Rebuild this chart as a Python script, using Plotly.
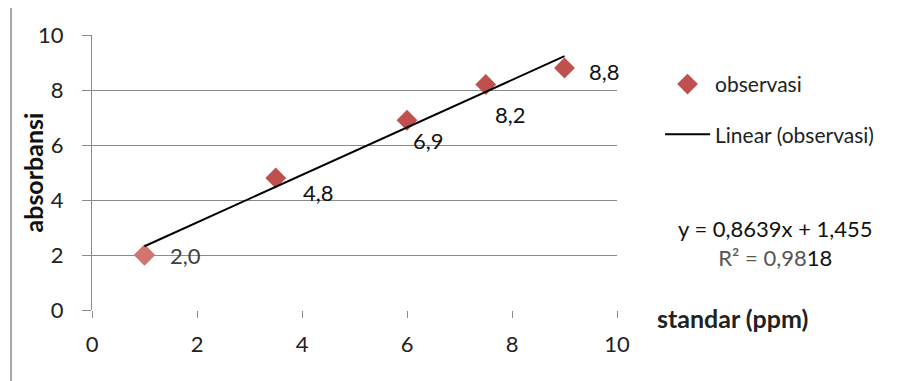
import plotly.graph_objects as go
import numpy as np

# data
standar = [1.0, 3.5, 6.0, 7.5, 9.0]
absorbansi = [2.0, 4.8, 6.9, 8.2, 8.8]
point_labels = ["2,0", "4,8", "6,9", "8,2", "8,8"]
slope = 0.8639
intercept = 1.455
r_squared = "0,9818"
x_ticks = [0, 2, 4, 6, 8, 10]
y_ticks = [0, 2, 4, 6, 8, 10]

# styles
FONT = "Lato"
label_colors = ["#404040"] + ["#111111"] * (len(standar) - 1)
label_shift = [(41, 0), (43, -14), (21, -20), (25, -30), (40, -3)]

fig = go.Figure()

fit_x = np.array([min(standar), max(standar)])
fit_y = slope * fit_x + intercept

fig.add_trace(go.Scatter(
    x=standar, y=absorbansi, mode="markers", name="observasi",
    marker=dict(symbol="diamond", size=16, color="#C0504D", line=dict(width=0)),
    legendgroup="a",
))
# first point appears lighter in the original
fig.add_trace(go.Scatter(
    x=standar[:1], y=absorbansi[:1], mode="markers", showlegend=False,
    marker=dict(symbol="diamond", size=16, color="#D27470", line=dict(width=0)),
    hoverinfo="skip", legendgroup="a",
))
fig.add_trace(go.Scatter(
    x=fit_x, y=fit_y, mode="lines", name="Linear (observasi)",
    line=dict(color="black", width=2), legendgroup="b",
))

annotations = []
for xv, yv, lab, col, (dx, dy) in zip(standar, absorbansi, point_labels, label_colors, label_shift):
    annotations.append(dict(x=xv, y=yv, xref="x", yref="y", text=lab, showarrow=False,
                            xanchor="center", yanchor="middle",
                            xshift=dx, yshift=dy, font=dict(family=FONT, size=22, color=col)))

eq_text = ("y = " + f"{slope:.4f}".replace(".", ",") + "x + " + f"{intercept:.3f}".replace(".", ",")
           + "<br><span style='color:#555'>R² = " + r_squared[:4] + "</span>" + r_squared[4:])

annotations += [
    dict(x=-0.1124, y=0.5, xref="paper", yref="paper", text="<b>absorbansi</b>", textangle=-90,
         xanchor="center", yanchor="middle",
         showarrow=False, font=dict(family=FONT, size=25, color="#111")),
    dict(x=1.22, y=-0.03, xref="paper", yref="paper", text="<b>standar (ppm)</b>",
         xanchor="center", yanchor="middle",
         showarrow=False, font=dict(family=FONT, size=25, color="#222")),
    dict(x=1.301, y=0.245, xref="paper", yref="paper", text=eq_text, align="center",
         xanchor="center", yanchor="middle",
         showarrow=False, font=dict(family=FONT, size=22, color="#111")),
]

fig.update_layout(
    width=910, height=381,
    margin=dict(l=84, r=301, t=27, b=79),
    paper_bgcolor="white", plot_bgcolor="white",
    font=dict(family=FONT, size=18, color="#222"),
    showlegend=True,
    legend=dict(x=1.082, y=0.895, xanchor="left", yanchor="top", traceorder="grouped",
                itemwidth=45,
                tracegroupgap=20, font=dict(family=FONT, size=21, color="#222"),
                bgcolor="rgba(0,0,0,0)"),
    annotations=annotations,
    shapes=[dict(type="rect", xref="paper", yref="paper", x0=-0.1543, x1=1.6, y0=-0.35, y1=1.109,
                 line=dict(color="#8c8c8c", width=1.5), fillcolor="rgba(0,0,0,0)", layer="below")],
)

fig.update_xaxes(range=[0, 10], tickvals=x_ticks, showgrid=False, zeroline=False,
                 showline=False, ticks="outside", ticklen=7, tickcolor="#8a8a8a",
                 ticklabelstandoff=8, tickfont=dict(size=22, color="#222"))
fig.update_yaxes(range=[0, 10], tickvals=y_ticks, showgrid=True, gridcolor="#8a8a8a", gridwidth=1,
                 zeroline=False, showline=True, linecolor="#8a8a8a", linewidth=1,
                 ticks="outside", ticklen=9, tickcolor="#8a8a8a",
                 ticklabelstandoff=14, tickfont=dict(size=22, color="#222"))

fig.write_html("out.html")
